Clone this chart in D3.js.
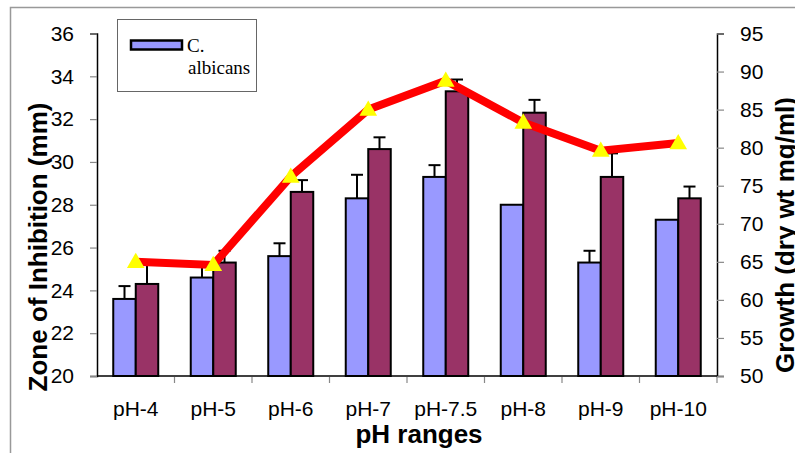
<!DOCTYPE html>
<html>
<head>
<meta charset="utf-8">
<script src="https://cdn.jsdelivr.net/npm/d3@7"></script>
<style>
  body { margin: 0; background: #fff; }
  svg { display: block; }
</style>
</head>
<body>
<div id="chart"></div>
<script>
// values
var phRanges = ['pH-4', 'pH-5', 'pH-6', 'pH-7', 'pH-7.5', 'pH-8', 'pH-9', 'pH-10'];
var albicansZone = [23.6, 24.6, 25.6, 28.3, 29.3, 28.0, 25.3, 27.3];
var albicansErr = [0.6, 0.5, 0.6, 1.1, 0.55, 0, 0.55, 0];
var secondZone = [24.3, 25.3, 28.6, 30.6, 33.3, 32.3, 29.3, 28.3];
var secondErr = [1.1, 0.55, 0.55, 0.55, 0.55, 0.6, 1.1, 0.55];
var growth = [65.0, 64.6, 76.2, 85.0, 88.8, 83.3, 79.6, 80.6];
var leftTicks = [20, 22, 24, 26, 28, 30, 32, 34, 36];
var rightTicks = [50, 55, 60, 65, 70, 75, 80, 85, 90, 95];

var width = 795, height = 453;
var plot = { left: 97, right: 717, top: 33.5, bottom: 376 };

var svg = d3.select('#chart').append('svg')
    .attr('width', width)
    .attr('height', height);

// outer frame (only top and left edges are visible)
svg.append('path')
    .attr('d', 'M10.5,' + height + 'V7.5H' + width)
    .attr('fill', 'none')
    .attr('stroke', '#999')
    .attr('stroke-width', 1.5);

var x = d3.scaleBand().domain(phRanges).range([plot.left, plot.right]).padding(0);
var yLeft = d3.scaleLinear().domain([20, 36]).range([plot.bottom, plot.top]);
var yRight = d3.scaleLinear().domain([50, 95]).range([plot.bottom, plot.top]);
var groupW = 45;
var sub = d3.scaleBand().domain(['a', 'b']).range([-groupW / 2, groupW / 2]);

var series = [
    { key: 'a', values: albicansZone, err: albicansErr, color: '#9999FF' },
    { key: 'b', values: secondZone, err: secondErr, color: '#993366' }
];

var tickFont = '"Liberation Sans", Arial, sans-serif';

// bars
series.forEach(function(s) {
    var g = svg.append('g');
    g.selectAll('rect').data(phRanges).enter().append('rect')
        .attr('x', function(d) { return x(d) + x.bandwidth() / 2 + sub(s.key); })
        .attr('y', function(d, i) { return yLeft(s.values[i]); })
        .attr('width', sub.bandwidth())
        .attr('height', function(d, i) { return plot.bottom - yLeft(s.values[i]); })
        .attr('fill', s.color)
        .attr('stroke', '#000')
        .attr('stroke-width', 2);

    // upward error bars
    var eg = svg.append('g').attr('stroke', '#000').attr('stroke-width', 2);
    phRanges.forEach(function(d, i) {
        if (!s.err[i]) return;
        var cx = x(d) + x.bandwidth() / 2 + sub(s.key) + sub.bandwidth() / 2;
        var y0 = yLeft(s.values[i]);
        var y1 = yLeft(s.values[i] + s.err[i]);
        eg.append('line').attr('x1', cx).attr('x2', cx).attr('y1', y0).attr('y2', y1);
        eg.append('line').attr('x1', cx - 6).attr('x2', cx + 6).attr('y1', y1).attr('y2', y1);
    });
});

// growth line
var line = d3.line()
    .x(function(d, i) { return x(phRanges[i]) + x.bandwidth() / 2; })
    .y(function(d) { return yRight(d); });

svg.append('path')
    .datum(growth)
    .attr('d', line)
    .attr('fill', 'none')
    .attr('stroke', '#FF0000')
    .attr('stroke-width', 8)
    .attr('stroke-linejoin', 'miter');

svg.append('g').selectAll('path').data(growth).enter().append('path')
    .attr('d', d3.symbol().type(d3.symbolTriangle).size(135))
    .attr('transform', function(d, i) {
        return 'translate(' + (x(phRanges[i]) + x.bandwidth() / 2) + ',' + (yRight(d) + 1) + ')';
    })
    .attr('fill', '#FFFF00');

// left axis
var leftAxis = svg.append('g')
    .attr('transform', 'translate(' + plot.left + ',0)')
    .call(d3.axisLeft(yLeft).tickValues(leftTicks).tickSize(7).tickPadding(16));
// right axis
var rightAxis = svg.append('g')
    .attr('transform', 'translate(' + plot.right + ',0)')
    .call(d3.axisRight(yRight).tickValues(rightTicks).tickSize(7).tickPadding(16));
// x axis, ticks at category boundaries
var xAxis = svg.append('g')
    .attr('transform', 'translate(0,' + plot.bottom + ')')
    .call(d3.axisBottom(x).tickSize(0).tickPadding(25));

[leftAxis, rightAxis, xAxis].forEach(function(a) {
    a.select('.domain').attr('stroke', '#000').attr('stroke-width', 1.5);
    a.selectAll('.tick line').attr('stroke', '#888').attr('stroke-width', 1.2);
    a.selectAll('text').attr('font-family', tickFont).attr('font-size', 21).attr('fill', '#000');
});
xAxis.select('.domain').attr('d', 'M' + plot.left + ',0H' + plot.right);

var bounds = phRanges.slice(1).map(function(d) { return x(d); }).concat([plot.right]);
xAxis.selectAll('.bound').data(bounds).enter().append('line')
    .attr('x1', function(d) { return d; })
    .attr('x2', function(d) { return d; })
    .attr('y1', 1)
    .attr('y2', 7)
    .attr('stroke', '#888')
    .attr('stroke-width', 1.2);

// titles
var titleFont = '"Liberation Sans", Arial, sans-serif';
svg.append('text')
    .attr('transform', 'translate(47,247) rotate(-90)')
    .attr('text-anchor', 'middle')
    .attr('font-family', titleFont)
    .attr('font-weight', 'bold')
    .attr('font-size', 26)
    .text('Zone of Inhibition (mm)');

svg.append('text')
    .attr('transform', 'translate(794,235) rotate(-90)')
    .attr('text-anchor', 'middle')
    .attr('font-family', titleFont)
    .attr('font-weight', 'bold')
    .attr('font-size', 26)
    .text('Growth (dry wt mg/ml)');

svg.append('text')
    .attr('x', 419)
    .attr('y', 443)
    .attr('text-anchor', 'middle')
    .attr('font-family', titleFont)
    .attr('font-weight', 'bold')
    .attr('font-size', 26)
    .text('pH ranges');

// legend
var legend = svg.append('g');
legend.append('rect')
    .attr('x', 117.5).attr('y', 19.5)
    .attr('width', 139).attr('height', 72)
    .attr('fill', '#fff')
    .attr('stroke', '#666')
    .attr('stroke-width', 1);
legend.append('rect')
    .attr('x', 131).attr('y', 40.5)
    .attr('width', 51).attr('height', 9)
    .attr('fill', '#9999FF')
    .attr('stroke', '#000')
    .attr('stroke-width', 2.5);
var legText = legend.append('text')
    .attr('font-family', '"Liberation Serif", "Times New Roman", serif')
    .attr('font-size', 19)
    .attr('fill', '#000');
legText.append('tspan').attr('x', 187).attr('y', 52).text('C.');
legText.append('tspan').attr('x', 188).attr('y', 74).text('albicans');
</script>
</body>
</html>
